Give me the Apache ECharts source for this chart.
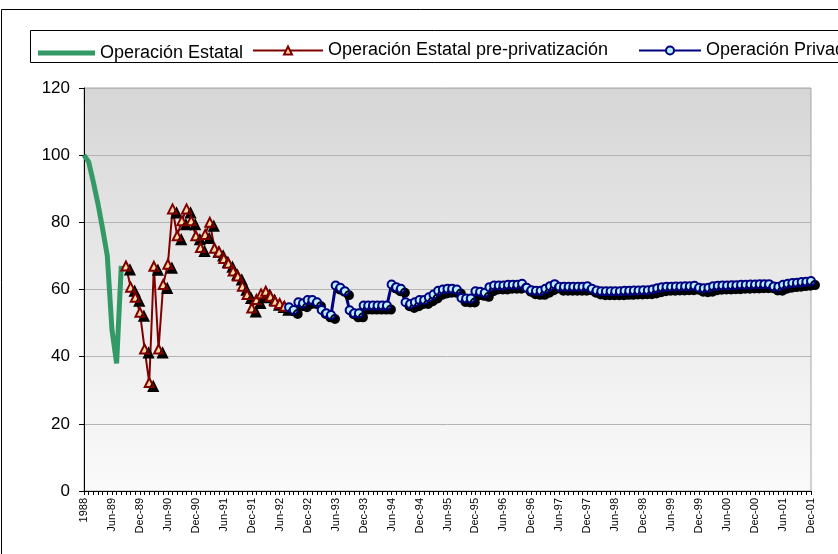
<!DOCTYPE html>
<html>
<head>
<meta charset="utf-8">
<script src="https://cdn.jsdelivr.net/npm/echarts@6/dist/echarts.min.js"></script>
<style>
  html, body { margin: 0; padding: 0; background: #fff; }
  #main { width: 838px; height: 554px; }
</style>
</head>
<body>
<div id="main"></div>
<script>
// eje x: 1988 y luego meses de ene-89 a dic-01
var meses = ["Jan", "Feb", "Mar", "Apr", "May", "Jun", "Jul", "Aug", "Sep", "Oct", "Nov", "Dec"];
var anios = ["89", "90", "91", "92", "93", "94", "95", "96", "97", "98", "99", "00", "01"];
var categorias = ["1988"];
anios.forEach(function (a) {
  meses.forEach(function (m) { categorias.push(m + "-" + a); });
});

var yTicks = [0, 20, 40, 60, 80, 100, 120];

// Operación Estatal (desde 1988)
var estatal = [100, 98, 92, 85.5, 78, 70, 48, 38, 67];
var inicioEstatal = 0;

// Operación Estatal pre-privatización (desde Sep-89)
var prePriv = [67, 60.7, 57.7, 53.2, 42.3, 32.3, 66.9, 42.3, 61.5, 67.5,
  84, 76, 80.5, 84, 80.5, 76, 72.5, 76.4, 80, 72.3,
  71.2, 69.2, 67.8, 65.5, 64, 61, 58.5, 54.5, 57, 58.7,
  59.5, 58, 56.5, 55.8, 55];
var inicioPre = 9;

// Operación Privada (desde Aug-92)
var privada = [54.7, 53.9, 56.2, 55.9, 56.9, 56.9, 56.2, 53.9, 52.9, 52.4,
  61.2, 60.5, 59.5, 53.8, 52.9, 52.9, 55.2, 55.2, 55.2, 55.2,
  55.2, 55.2, 61.5, 60.7, 60.2, 56.2, 55.7, 56.2, 56.9, 56.9,
  57.7, 58.5, 59.6, 60, 60.2, 60.2, 60, 57.5, 57.3, 57.3,
  59.5, 59.3, 59, 60.7, 61.2, 61.2, 61.2, 61.4, 61.4, 61.4,
  61.7, 60.5, 59.8, 59.6, 59.6, 60.2, 61, 61.6, 60.8, 60.8,
  60.8, 60.8, 60.8, 60.8, 61, 60.2, 59.7, 59.5, 59.5, 59.5,
  59.5, 59.5, 59.6, 59.6, 59.7, 59.7, 59.8, 59.8, 60, 60.4,
  60.7, 60.8, 60.8, 60.9, 60.9, 61, 61, 61.1, 60.5, 60.4,
  60.5, 61, 61.1, 61.2, 61.2, 61.3, 61.3, 61.4, 61.4, 61.5,
  61.5, 61.6, 61.6, 61.6, 60.9, 60.8, 61.4, 61.7, 61.9, 62,
  62.2, 62.3, 62.5];
var inicioPriv = 44;

// rellena con "-" fuera del tramo de cada serie
function tramo(valores, inicio) {
  var out = [];
  for (var i = 0; i < categorias.length; i++) {
    var k = i - inicio;
    out.push(k >= 0 && k < valores.length ? valores[k] : "-");
  }
  return out;
}

var fuente = "'Liberation Sans', Arial, sans-serif";
var sinSombra = { shadowBlur: 0, shadowColor: "transparent", shadowOffsetX: 0, shadowOffsetY: 0 };
var textoLeyenda = { fontFamily: fuente, fontSize: 18, color: "#000" };

var myChart = echarts.init(document.getElementById("main"));
var option = {
  animation: false,
  backgroundColor: "#fff",
  graphic: [
    // marco del gráfico
    { type: "rect", silent: true, z: -10, shape: { x: 1.5, y: 9.5, width: 900, height: 700 },
      style: { fill: "#fff", stroke: "#000", lineWidth: 1 } },
    // caja de la leyenda
    { type: "rect", silent: true, z: -9, shape: { x: 30.5, y: 30.5, width: 900, height: 32 },
      style: { fill: "#fff", stroke: "#000", lineWidth: 1 } }
  ],
  legend: [
    { data: [{ name: "Operación Estatal", icon: "rect" }], left: 38, top: 44, padding: 0,
      itemWidth: 57, itemHeight: 5, itemStyle: sinSombra, textStyle: textoLeyenda },
    { data: ["Operación Estatal pre-privatización"], left: 252, top: 41.5, padding: 0,
      itemWidth: 70, itemHeight: 10, itemStyle: sinSombra, textStyle: textoLeyenda },
    { data: ["Operación Privada"], left: 638, top: 41.5, padding: 0,
      itemWidth: 62, itemHeight: 10, itemStyle: sinSombra, textStyle: textoLeyenda }
  ],
  grid: {
    left: 84, right: 27, top: 88, bottom: 63,
    show: true,
    borderColor: "#a6a6a6",
    borderWidth: 1,
    backgroundColor: new echarts.graphic.LinearGradient(0, 0, 0, 1, [
      { offset: 0, color: "#d6d6d6" },
      { offset: 0.45, color: "#e8e8e8" },
      { offset: 1, color: "#fafafa" }
    ])
  },
  xAxis: {
    type: "category",
    data: categorias,
    boundaryGap: false,
    axisLine: { lineStyle: { color: "#000", width: 1 } },
    axisTick: { show: true, interval: 0, length: 4, lineStyle: { color: "#000" } },
    axisLabel: {
      interval: 5, rotate: 90, margin: 7,
      fontFamily: fuente, fontSize: 11, color: "#000"
    },
    splitLine: { show: false }
  },
  yAxis: {
    type: "value",
    min: yTicks[0],
    max: yTicks[yTicks.length - 1],
    interval: 20,
    axisLine: { show: true, lineStyle: { color: "#000", width: 1 } },
    axisTick: { show: true, length: 5, lineStyle: { color: "#000" } },
    axisLabel: { margin: 14, fontFamily: fuente, fontSize: 17, color: "#000" },
    splitLine: { show: true, lineStyle: { color: "#b4b4b4", width: 1 } }
  },
  series: [
    {
      name: "Operación Estatal",
      type: "line",
      data: tramo(estatal, inicioEstatal),
      symbol: "none",
      color: "#339966",
      lineStyle: { color: "#339966", width: 5 },
      z: 3
    },
    {
      name: "Operación Estatal pre-privatización",
      type: "line",
      data: tramo(prePriv, inicioPre),
      symbol: "triangle",
      symbolSize: 9,
      showAllSymbol: true,
      color: "#800000",
      lineStyle: { color: "#800000", width: 2 },
      itemStyle: {
        color: "#ffd9a0", borderColor: "#800000", borderWidth: 2,
        shadowColor: "#000", shadowBlur: 0, shadowOffsetX: 4, shadowOffsetY: 4
      },
      z: 4
    },
    {
      name: "Operación Privada",
      type: "line",
      data: tramo(privada, inicioPriv),
      symbol: "circle",
      symbolSize: 8,
      showAllSymbol: true,
      color: "#000080",
      lineStyle: { color: "#000080", width: 3 },
      itemStyle: {
        color: "#b4f0ff", borderColor: "#000080", borderWidth: 2,
        shadowColor: "#000", shadowBlur: 0, shadowOffsetX: 4, shadowOffsetY: 4
      },
      z: 5
    }
  ]
};
myChart.setOption(option);
</script>
</body>
</html>
